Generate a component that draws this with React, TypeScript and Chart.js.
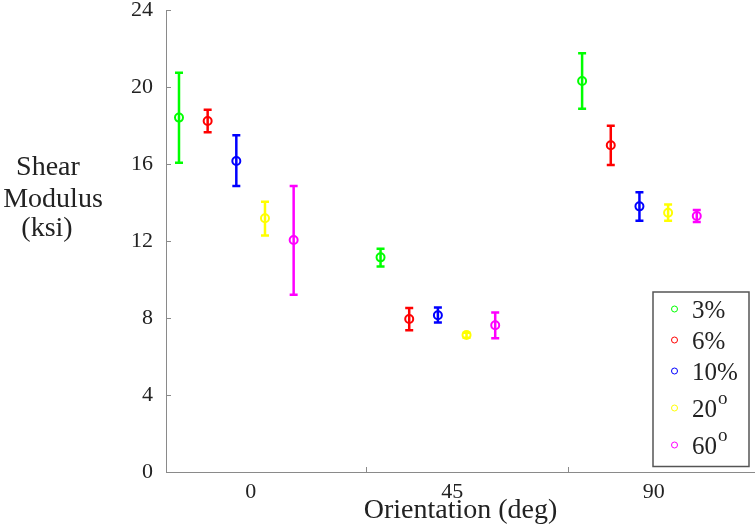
import React, { useEffect, useRef } from "react";
import { Chart, registerables } from "chart.js";

Chart.register(...registerables);

// ---- data ----
const categories = ["0", "45", "90"];
const categoryValues = [0, 45, 90];
const seriesLabels = ["3%", "6%", "10%", "20^o", "60^o"];
const seriesColors = ["#00ff00", "#ff0000", "#0000ff", "#ffff00", "#ff00ff"];

const mean3 = [18.41, 11.15, 20.31];
const low3 = [16.07, 10.67, 18.87];
const high3 = [20.74, 11.6, 21.75];

const mean6 = [18.23, 7.95, 16.97];
const low6 = [17.65, 7.36, 15.95];
const high6 = [18.82, 8.52, 17.99];

const mean10 = [16.16, 8.14, 13.8];
const low10 = [14.86, 7.76, 13.05];
const high10 = [17.49, 8.54, 14.53];

const mean20 = [13.18, 7.12, 13.47];
const low20 = [12.28, 6.98, 13.05];
const high20 = [14.04, 7.24, 13.89];

const mean60 = [12.05, 7.62, 13.3];
const low60 = [9.21, 6.95, 12.99];
const high60 = [14.86, 8.28, 13.61];

const yTicks = [0, 4, 8, 12, 16, 20, 24];
const xTitle = "Orientation (deg)";
const yTitleLines = ["Shear", "Modulus", "(ksi)"];

// ---- layout / style ----
const means = [mean3, mean6, mean10, mean20, mean60];
const lows = [low3, low6, low10, low20, low60];
const highs = [high3, high6, high10, high20, high60];
const SERIES_OFFSETS = [-16, -9.6, -3.2, 3.2, 9.6];
const GROUP_START = -19.2;
const X_MIN = -18.9;
const X_MAX = 112.6;
const FONT = '"Liberation Serif", "Times New Roman", serif';
const AXIS_COLOR = "#8a8a8a";
const TEXT_COLOR = "#222";

const drawPlugin = {
  id: "customDraw",
  beforeDatasetsDraw(chart: any) {
    const ctx = chart.ctx;
    const xs = chart.scales.x;
    const ys = chart.scales.y;
    ctx.save();
    ctx.lineWidth = 2.5;
    for (let d = 0; d < means.length; d++) {
      ctx.strokeStyle = seriesColors[d];
      for (let i = 0; i < categoryValues.length; i++) {
        const x = xs.getPixelForValue(categoryValues[i] + SERIES_OFFSETS[d]);
        const yl = ys.getPixelForValue(lows[d][i]);
        const yh = ys.getPixelForValue(highs[d][i]);
        ctx.beginPath();
        ctx.moveTo(x, yl);
        ctx.lineTo(x, yh);
        ctx.moveTo(x - 4, yl);
        ctx.lineTo(x + 4, yl);
        ctx.moveTo(x - 4, yh);
        ctx.lineTo(x + 4, yh);
        ctx.stroke();
      }
    }
    ctx.restore();
  },
  afterDraw(chart: any) {
    const ctx = chart.ctx;
    const xs = chart.scales.x;
    const ys = chart.scales.y;
    const area = chart.chartArea;
    ctx.save();
    // inward ticks
    ctx.strokeStyle = AXIS_COLOR;
    ctx.lineWidth = 1;
    ctx.beginPath();
    for (const t of yTicks) {
      const y = Math.round(ys.getPixelForValue(t)) + 0.5;
      ctx.moveTo(area.left, y);
      ctx.lineTo(area.left + 5, y);
    }
    for (let i = 1; i < categoryValues.length; i++) {
      const x = Math.round(xs.getPixelForValue(categoryValues[i] + GROUP_START)) + 0.5;
      ctx.moveTo(x, area.bottom);
      ctx.lineTo(x, area.bottom - 5);
    }
    ctx.stroke();

    // y title
    ctx.fillStyle = TEXT_COLOR;
    ctx.font = `28px ${FONT}`;
    ctx.textAlign = "center";
    ctx.textBaseline = "middle";
    const yCenters = [168, 200, 229];
    const xCenters = [48, 53, 47];
    yTitleLines.forEach((t, i) => ctx.fillText(t, xCenters[i], yCenters[i]));

    // legend
    const boxL = 653;
    const boxR = area.right - 6;
    const boxT = 292;
    const boxB = area.bottom - 5.5;
    ctx.fillStyle = "#fff";
    ctx.fillRect(boxL, boxT, boxR - boxL, boxB - boxT);
    ctx.strokeStyle = "#555";
    ctx.lineWidth = 1.5;
    ctx.strokeRect(boxL, boxT, boxR - boxL, boxB - boxT);
    let y = boxT + 17;
    ctx.textAlign = "left";
    seriesLabels.forEach((lab, i) => {
      const sup = lab.includes("^");
      if (i > 0) y += 31 + (sup ? 6 : 0);
      ctx.strokeStyle = seriesColors[i];
      ctx.lineWidth = 1;
      ctx.beginPath();
      ctx.arc(674.5, y, 3, 0, Math.PI * 2);
      ctx.stroke();
      ctx.fillStyle = TEXT_COLOR;
      ctx.font = `25px ${FONT}`;
      if (sup) {
        const [base, s] = lab.split("^");
        ctx.fillText(base, 692, y + 2);
        const w = ctx.measureText(base).width;
        ctx.font = `19px ${FONT}`;
        ctx.fillText(s, 692 + w + 1, y - 9);
      } else {
        ctx.fillText(lab, 692, y + 2);
      }
    });
    ctx.restore();
  },
};

export default function App() {
  const ref = useRef<HTMLCanvasElement>(null);
  useEffect(() => {
    if (!ref.current) return;
    const datasets = means.map((m, d) => ({
      label: seriesLabels[d],
      data: m.map((v, i) => ({ x: categoryValues[i] + SERIES_OFFSETS[d], y: v })),
      borderColor: seriesColors[d],
      backgroundColor: "rgba(0,0,0,0)",
      pointRadius: 4,
      pointBorderWidth: 2,
      pointStyle: "circle",
      showLine: false,
    }));
    const chart = new Chart(ref.current, {
      type: "scatter",
      data: { datasets },
      options: {
        animation: false,
        responsive: false,
        layout: { autoPadding: false, padding: { top: 10, left: 0, right: 0, bottom: 0 } },
        plugins: { legend: { display: false }, tooltip: { enabled: false } },
        scales: {
          x: {
            type: "linear",
            min: X_MIN,
            max: X_MAX,
            grid: { display: false, drawTicks: false },
            border: { display: true, color: AXIS_COLOR, width: 1 },
            afterBuildTicks: (s: any) => {
              s.ticks = categoryValues.map((v) => ({ value: v }));
            },
            afterFit: (s: any) => {
              s.height = 55;
              s.paddingLeft = 0;
              s.paddingRight = 0;
            },
            ticks: {
              autoSkip: false,
              maxRotation: 0,
              padding: 7,
              color: TEXT_COLOR,
              font: { family: FONT, size: 22 },
              callback: (v: any) => {
                const idx = categoryValues.indexOf(Number(v));
                return idx >= 0 ? categories[idx] : "";
              },
            },
            title: {
              display: true,
              text: xTitle,
              color: TEXT_COLOR,
              font: { family: FONT, size: 28 },
              padding: { top: 0, bottom: 0 },
            },
          },
          y: {
            min: 0,
            max: 24,
            grid: { display: false, drawTicks: false },
            border: { display: true, color: AXIS_COLOR, width: 1 },
            afterBuildTicks: (s: any) => {
              s.ticks = yTicks.map((v) => ({ value: v }));
            },
            afterFit: (s: any) => {
              s.width = 166;
              s.paddingTop = 0;
              s.paddingBottom = 0;
            },
            ticks: {
              padding: 13,
              color: TEXT_COLOR,
              font: { family: FONT, size: 22 },
            },
          },
        },
      },
      plugins: [drawPlugin],
    });
    return () => chart.destroy();
  }, []);
  return (
    <div style={{ position: "absolute", left: 0, top: 0, width: 755, height: 527, background: "#fff" }}>
      <canvas ref={ref} width={755} height={527} />
    </div>
  );
}
